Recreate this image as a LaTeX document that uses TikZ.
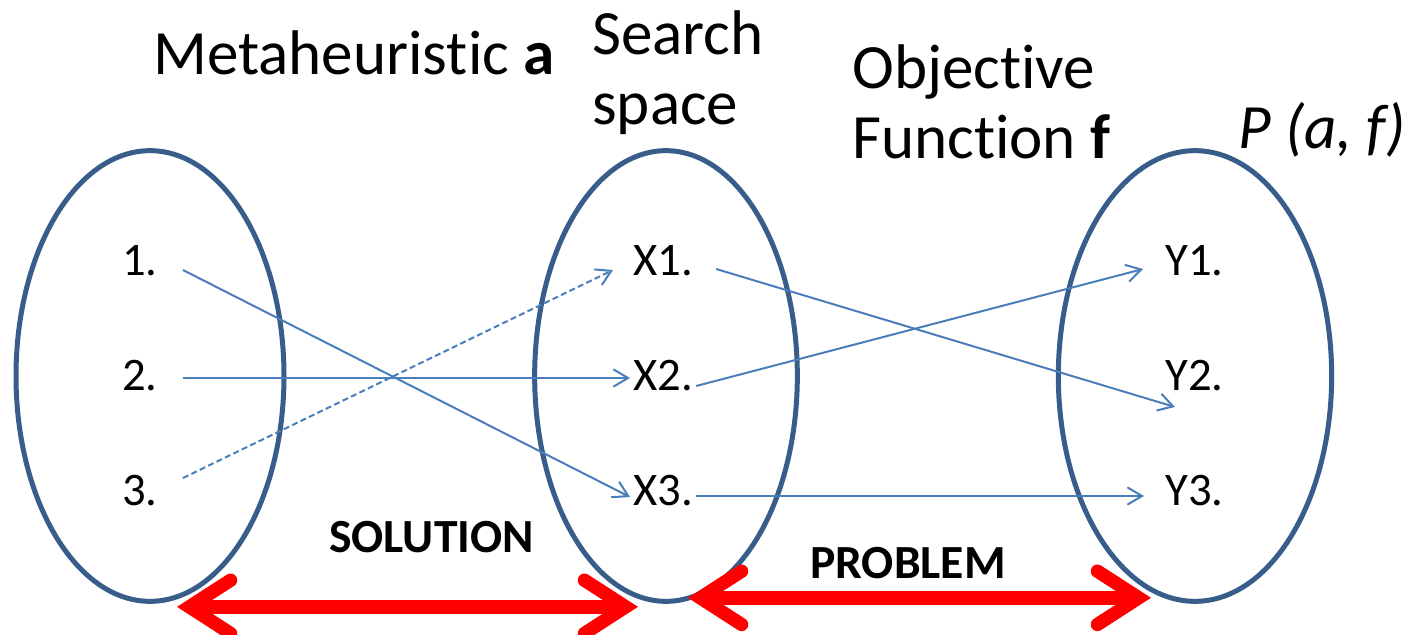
\documentclass[tikz,border=0pt]{standalone}
\usepackage{fontspec}
\setmainfont{Carlito}[Ligatures=NoCommon]
\usetikzlibrary{arrows.meta,shapes.geometric}
\definecolor{ellc}{HTML}{385D8A}
\definecolor{linec}{HTML}{4A7EBB}
\begin{document}
\begin{tikzpicture}[x=0.75pt,y=-0.75pt,
  ell/.style={draw=ellc,line width=3.75pt,ellipse,inner sep=0pt,minimum width=201pt,minimum height=338pt},
  lbl/.style={anchor=base west,inner sep=0pt,font=\fontsize{35pt}{40pt}\selectfont},
  ttl/.style={anchor=base west,inner sep=0pt,align=left,font=\fontsize{47.3pt}{52.5pt}\selectfont},
  bl/.style={anchor=base west,inner sep=0pt,font=\bfseries\fontsize{35.7pt}{40pt}\selectfont},
  barrow/.style={draw=linec,line width=1.5pt,-{Straight Barb[length=11pt,width=13pt]}},
  rarrow/.style={draw=red,line width=10pt,{Straight Barb[length=31pt,width=40pt,line cap=round,line join=miter]}-{Straight Barb[length=31pt,width=40pt,line cap=round,line join=miter]}}
]
\useasboundingbox (0,0) rectangle (1418,635);

% ellipses
\node[ell] (e1) at (150,376) {};
\node[ell,minimum width=197pt] (e2) at (666,376) {};
\node[ell,minimum width=205pt] (e3) at (1195,376) {};

% titles (base anchor = last line)
\node[ttl] (ta) at (153,75) {Metaheuristic \textbf{a}};
\node[ttl] (ts) at (592,124) {Search\\space};
\node[ttl] (to) at (852,158) {Objective\\Function \textbf{f}};
\node[ttl] (tp) at (1238,148) {\textit{P (a, f)}};

% item labels
\node[lbl] (n1) at (122,275) {1.};
\node[lbl] (n2) at (122,390) {2.};
\node[lbl] (n3) at (122,505) {3.};
\node[lbl] (x1) at (633,275) {X1.};
\node[lbl] (x2) at (633,390) {X2.};
\node[lbl] (x3) at (633,505) {X3.};
\node[lbl] (y1) at (1165,275) {Y1.};
\node[lbl] (y2) at (1165,390) {Y2.};
\node[lbl] (y3) at (1165,505) {Y3.};

% bold captions
\node[bl] (sol) at (329,552) {SOLUTION};
\node[bl] (prob) at (810,578) {PROBLEM};

% mapping arrows
\draw[barrow] ([shift={(25,-5)}]n1.base east) -- ([shift={(-3,-8)}]x3.base west);
\draw[barrow] ([shift={(25,-12)}]n2.base east) -- ([shift={(-3,-12)}]x2.base west);
\draw[barrow,dash pattern=on 4.5pt off 2.5pt] ([shift={(25,-27)}]n3.base east) -- ([shift={(-20,-5)}]x1.base west);
\draw[barrow] ([shift={(23,-6)}]x1.base east) -- ([shift={(10,17)}]y2.base west);
\draw[barrow] ([shift={(3,-4)}]x2.base east) -- ([shift={(-22,-6)}]y1.base west);
\draw[barrow] ([shift={(3,-9)}]x3.base east) -- ([shift={(-21,-9)}]y3.base west);

% red double arrows
\draw[rarrow] ([shift={(27,3)}]e1.south) -- ([shift={(-28,3)}]e2.south);
\draw[rarrow] ([shift={(22,-6)}]e2.south) -- ([shift={(-44,-6)}]e3.south);
\end{tikzpicture}
\end{document}
